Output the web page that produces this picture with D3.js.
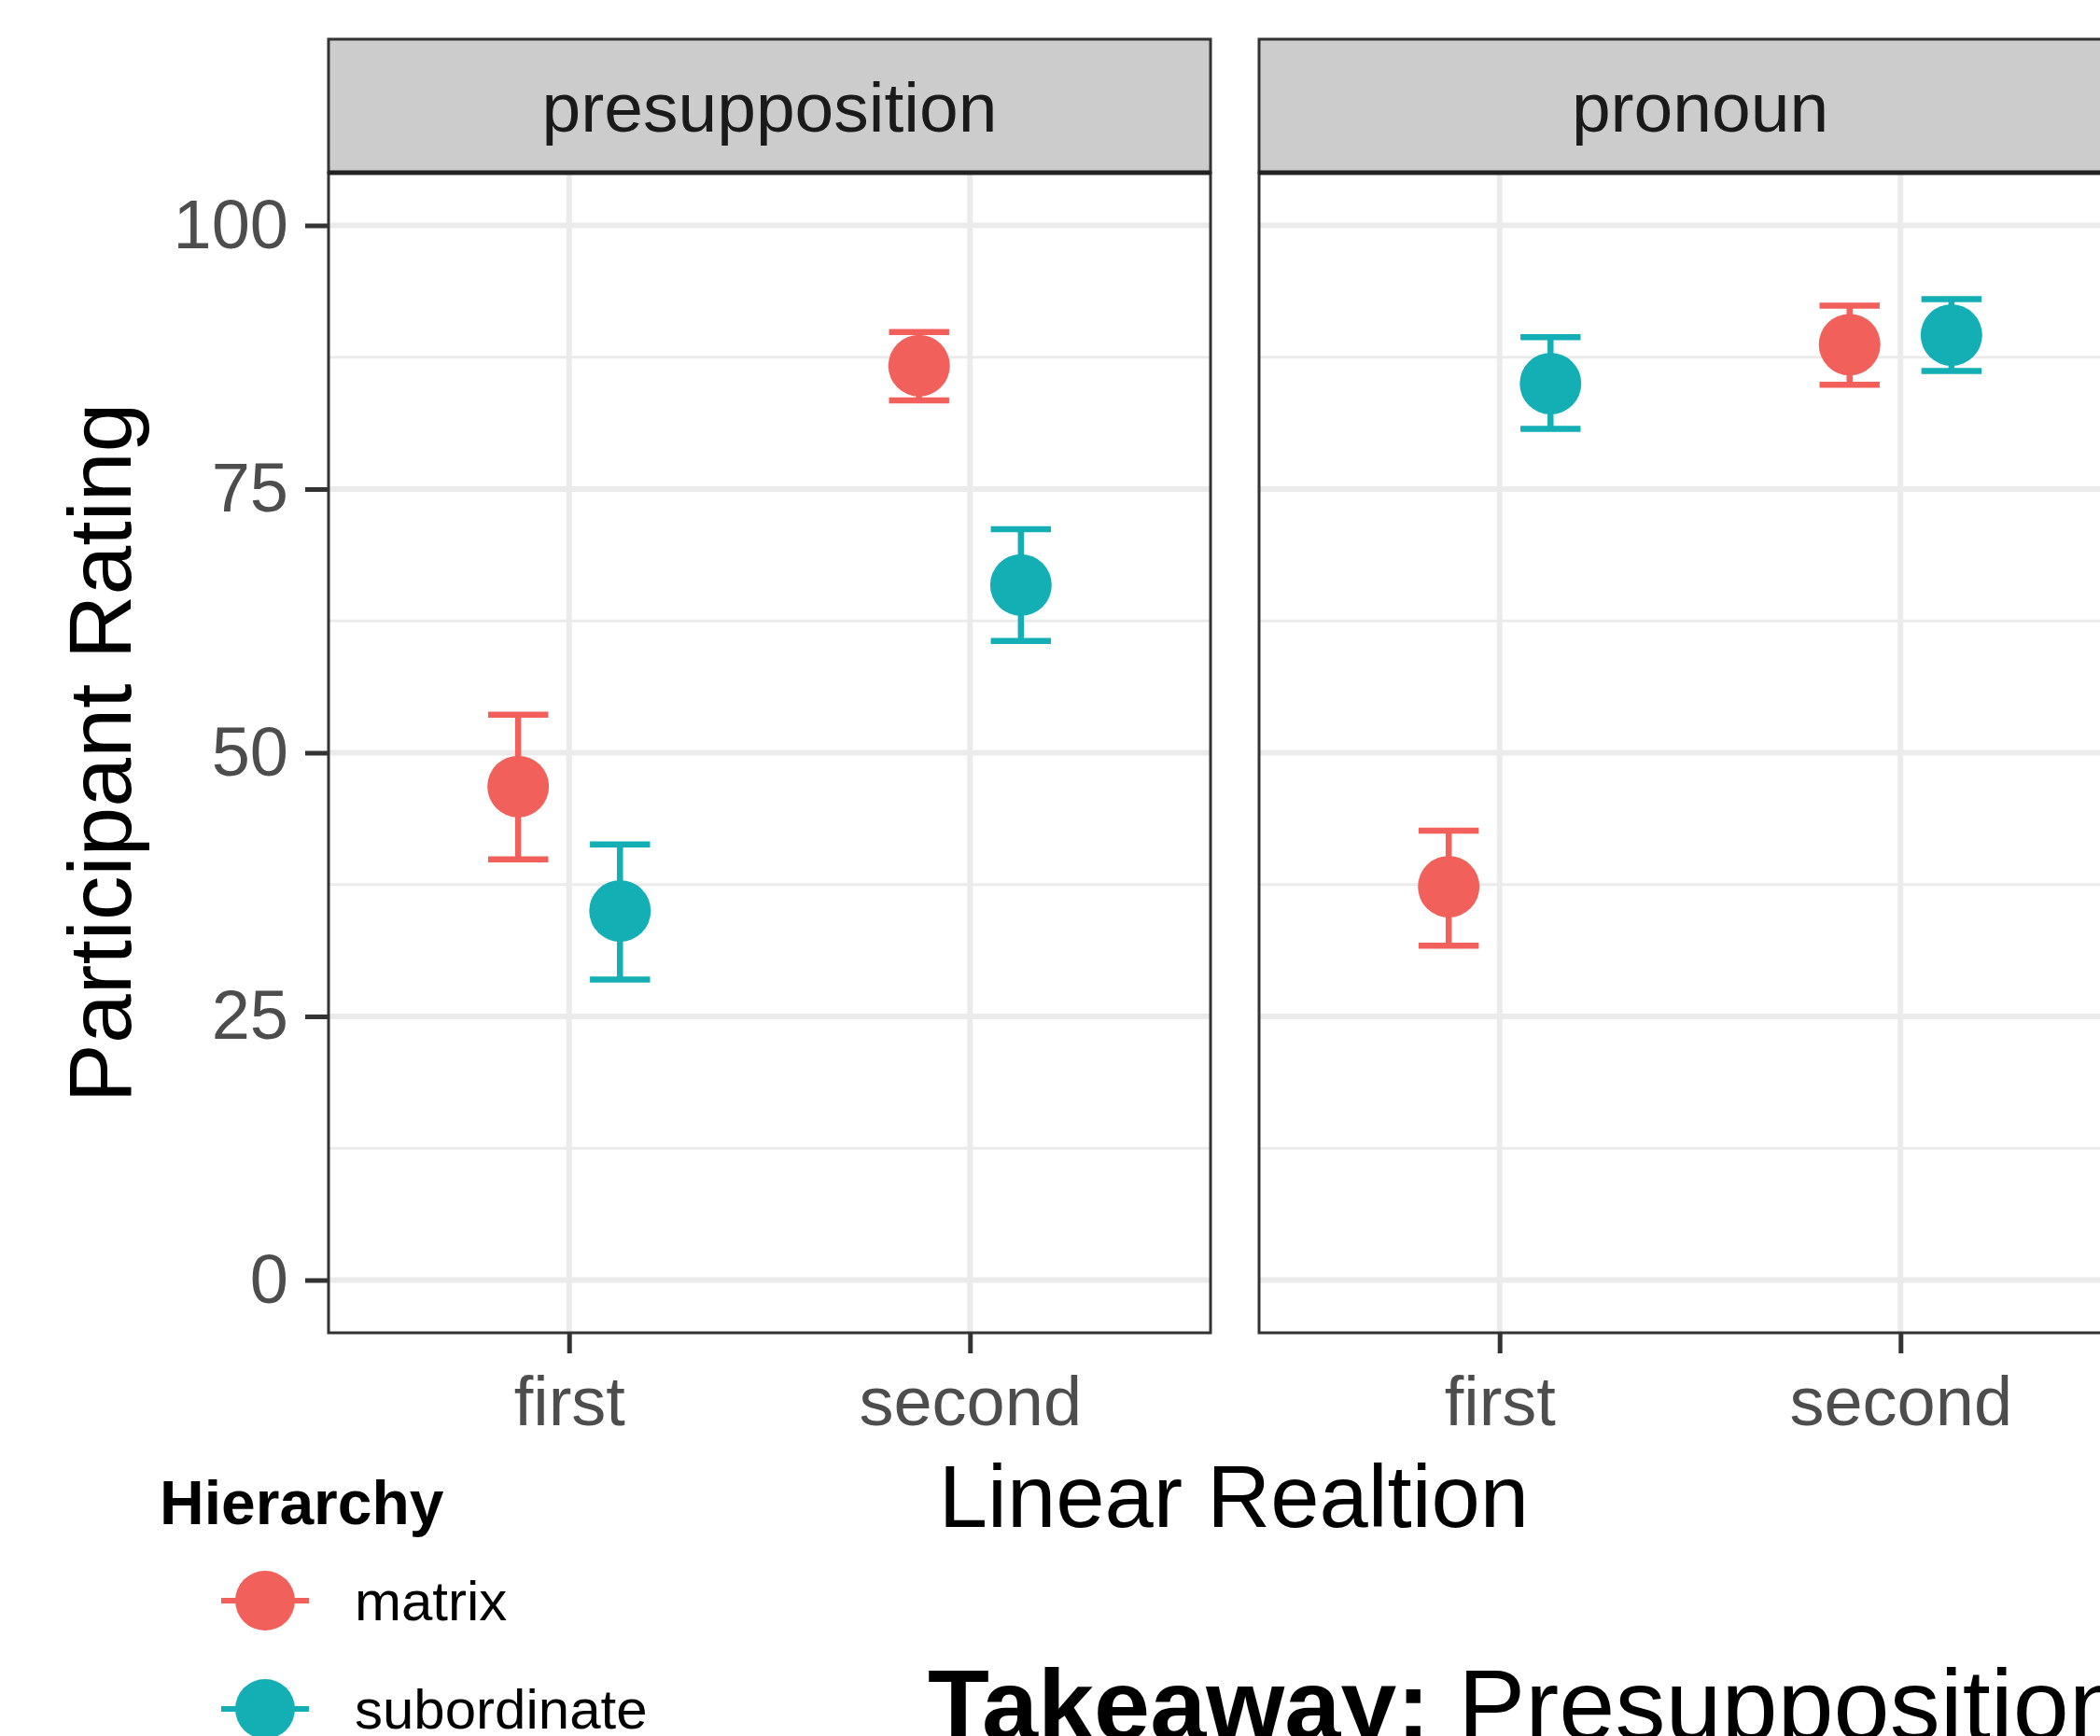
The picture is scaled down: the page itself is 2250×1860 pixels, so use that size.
<!DOCTYPE html>
<html>
<head>
<meta charset="utf-8">
<script src="https://cdn.jsdelivr.net/npm/d3@7"></script>
<style>
  body { margin: 0; background: #fff; }
  text { font-family: "Liberation Sans", Arial, Helvetica, sans-serif; }
</style>
</head>
<body>
<svg id="chart" width="2250" height="1860"></svg>
<script>
// data
const panels = ["presupposition", "pronoun"];
const linear = ["first", "second"];
const hierarchy = ["matrix", "subordinate"];
const colors = ["#F2605B", "#13AFB5"];

// mean, lower, upper per panel -> [linear][hierarchy]
const presMean = [[46.8, 35.0], [86.7, 65.9]];
const presLow  = [[39.9, 28.5], [83.4, 60.6]];
const presHigh = [[53.6, 41.3], [89.9, 71.2]];
const pronMean = [[37.3, 85.0], [88.7, 89.6]];
const pronLow  = [[31.7, 80.7], [84.9, 86.2]];
const pronHigh = [[42.6, 89.4], [92.4, 93.0]];

const yTicks = [0, 25, 50, 75, 100];
const yMinor = [12.5, 37.5, 62.5, 87.5];

const svg = d3.select("#chart");

const panelW = 945;
const panelLeft = [352, 1349];
const stripTop = 42;
const stripH = 143;
const plotTop = stripTop + stripH;
const plotBottom = 1428;

const y = d3.scaleLinear().domain([-5, 105]).range([plotBottom, plotTop]);
const x = d3.scalePoint().domain(linear).range([0, panelW]).padding(0.6);
const step = x.step();
const dodge = d3.scalePoint().domain(hierarchy).range([-0.127 * step, 0.127 * step]);
const color = d3.scaleOrdinal().domain(hierarchy).range(colors);

const means = [presMean, pronMean];
const lows = [presLow, pronLow];
const highs = [presHigh, pronHigh];

panels.forEach((p, pi) => {
  const g = svg.append("g").attr("transform", `translate(${panelLeft[pi]},0)`);

  // background grid
  g.selectAll(".minor").data(yMinor).enter().append("line")
    .attr("x1", 0).attr("x2", panelW)
    .attr("y1", d => y(d)).attr("y2", d => y(d))
    .attr("stroke", "#EBEBEB").attr("stroke-width", 3);
  g.selectAll(".major").data(yTicks).enter().append("line")
    .attr("x1", 0).attr("x2", panelW)
    .attr("y1", d => y(d)).attr("y2", d => y(d))
    .attr("stroke", "#EBEBEB").attr("stroke-width", 6);
  g.selectAll(".vmajor").data(linear).enter().append("line")
    .attr("x1", d => x(d)).attr("x2", d => x(d))
    .attr("y1", plotTop).attr("y2", plotBottom)
    .attr("stroke", "#EBEBEB").attr("stroke-width", 6);

  // points + error bars
  const rows = [];
  linear.forEach((l, li) => hierarchy.forEach((h, hi) => {
    rows.push({ l, h, m: means[pi][li][hi], lo: lows[pi][li][hi], hi: highs[pi][li][hi] });
  }));
  const capW = 0.15 * step;
  const mark = g.selectAll(".mark").data(rows).enter().append("g")
    .attr("transform", d => `translate(${x(d.l) + dodge(d.h)},0)`)
    .attr("stroke", d => color(d.h)).attr("fill", d => color(d.h));
  mark.append("line").attr("x1", 0).attr("x2", 0)
    .attr("y1", d => y(d.lo)).attr("y2", d => y(d.hi)).attr("stroke-width", 6.5);
  mark.append("line").attr("x1", -capW / 2).attr("x2", capW / 2)
    .attr("y1", d => y(d.lo)).attr("y2", d => y(d.lo)).attr("stroke-width", 6.5);
  mark.append("line").attr("x1", -capW / 2).attr("x2", capW / 2)
    .attr("y1", d => y(d.hi)).attr("y2", d => y(d.hi)).attr("stroke-width", 6.5);
  mark.append("circle").attr("cx", 0).attr("cy", d => y(d.m)).attr("r", 33).attr("stroke", "none");

  // panel border
  g.append("rect").attr("x", 0).attr("y", plotTop).attr("width", panelW)
    .attr("height", plotBottom - plotTop).attr("fill", "none")
    .attr("stroke", "#333333").attr("stroke-width", 3);

  // strip
  g.append("rect").attr("x", 0).attr("y", stripTop).attr("width", panelW).attr("height", stripH)
    .attr("fill", "#CCCCCC").attr("stroke", "#333333").attr("stroke-width", 3);
  g.append("line").attr("x1", 0).attr("x2", panelW).attr("y1", plotTop).attr("y2", plotTop)
    .attr("stroke", "#222").attr("stroke-width", 5);
  g.append("text").attr("x", panelW / 2).attr("y", 141).attr("text-anchor", "middle")
    .attr("font-size", 75).attr("fill", "#1A1A1A").text(p);

  // x axis
  const xa = g.append("g").attr("transform", `translate(0,${plotBottom})`)
    .call(d3.axisBottom(x).tickSize(22).tickPadding(24));
  xa.select(".domain").remove();
  xa.selectAll(".tick line").attr("stroke", "#333333").attr("stroke-width", 5);
  xa.selectAll(".tick text").attr("font-size", 74).attr("fill", "#4D4D4D")
    .attr("font-family", "Liberation Sans, Arial, sans-serif");

  if (pi === 0) {
    const ya = g.append("g").call(d3.axisLeft(y).tickValues(yTicks).tickSize(25).tickPadding(18));
    ya.select(".domain").remove();
    ya.selectAll(".tick line").attr("stroke", "#333333").attr("stroke-width", 5);
    ya.selectAll(".tick text").attr("font-size", 74).attr("fill", "#4D4D4D")
      .attr("font-family", "Liberation Sans, Arial, sans-serif");
  }
});

// axis titles
svg.append("text").attr("transform", `translate(140,${(plotTop + plotBottom) / 2}) rotate(-90)`)
  .attr("text-anchor", "middle").attr("font-size", 95).attr("fill", "#000").text("Participant Rating");
svg.append("text").attr("x", 1322).attr("y", 1636).attr("text-anchor", "middle")
  .attr("font-size", 94).attr("fill", "#000").text("Linear Realtion");

// legend
svg.append("text").attr("x", 171).attr("y", 1633).attr("font-size", 66)
  .attr("font-weight", "bold").attr("fill", "#000").text("Hierarchy");
const legY = d3.scalePoint().domain(hierarchy).range([1715, 1831]);
const leg = svg.selectAll(".leg").data(hierarchy).enter().append("g")
  .attr("transform", d => `translate(284,${legY(d)})`);
leg.append("line").attr("x1", -47).attr("x2", 47).attr("stroke", d => color(d)).attr("stroke-width", 6);
leg.append("circle").attr("r", 32).attr("fill", d => color(d));
leg.append("text").attr("x", 96).attr("y", 21).attr("font-size", 60).attr("fill", "#000").text(d => d);

// takeaway caption (cropped in source)
const cap = svg.append("text").attr("x", 994).attr("y", 1864).attr("font-size", 108).attr("fill", "#000");
cap.append("tspan").attr("font-weight", "bold").text("Takeaway:");
cap.append("tspan").text(" Presupposition");
</script>
</body>
</html>
